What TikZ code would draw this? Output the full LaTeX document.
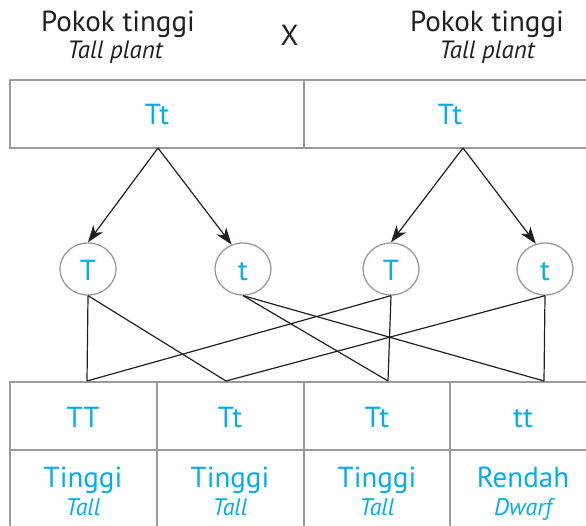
\documentclass[tikz,border=0pt]{standalone}
\usepackage{fontspec}
\setmainfont{PT Sans}
\usetikzlibrary{arrows.meta,shapes.geometric}
\definecolor{gcyan}{HTML}{00AEEF}
\definecolor{ink}{HTML}{231F20}
\definecolor{frame}{HTML}{9A9A9A}
\begin{document}
\begin{tikzpicture}[x=1pt,y=-1pt,
 box/.style={draw=frame,line width=1.3pt},
 lbl/.style={text=ink,font=\fontsize{29}{29}\selectfont,anchor=base,inner sep=0},
 sub/.style={text=ink,font=\itshape\fontsize{25}{25}\selectfont,anchor=base,inner sep=0},
 gen/.style={text=gcyan,font=\fontsize{29}{29}\selectfont,anchor=base,inner sep=0},
 gensub/.style={text=gcyan,font=\itshape\fontsize{24}{24}\selectfont,anchor=base,inner sep=0},
 gamete/.style={ellipse,draw=frame,line width=1.3pt,minimum width=56pt,minimum height=52pt,inner sep=0},
 link/.style={draw=ink,line width=1.2pt},
 arr/.style={link,-{Stealth[length=17pt,width=12pt,inset=5pt]}}]
\clip (0,0) rectangle (586,526);
% top labels
\node[lbl] (p1) at (118,32) {Pokok tinggi};
\node[sub] (s1) at (115,59) {Tall plant};
\node[lbl] (x) at (289.5,46) {X};
\node[lbl] (p2) at (487,32) {Pokok tinggi};
\node[sub] (s2) at (487,59) {Tall plant};
% parent box
\draw[box] (10,80) rectangle (600,148);
\draw[box] (304,80) -- (304,148);
\node[gen] (par1) at (157,125) {Tt};
\node[gen] (par2) at (450,125) {Tt};
\coordinate (o1) at (158,148);
\coordinate (o2) at (463,148);
% gametes
\node[gamete] (g1) at (88,269) {};
\node[gamete] (g2) at (243,269) {};
\node[gamete] (g3) at (391,269) {};
\node[gamete] (g4) at (545,269) {};
\node[gen] (g1t) at (88,281) {T};
\node[gen] (g2t) at (243,281) {t};
\node[gen] (g3t) at (391,281) {T};
\node[gen] (g4t) at (545,281) {t};
\draw[arr] (o1) -- (g1.north);
\draw[arr] (o1) -- (g2.115);
\draw[arr] (o2) -- (g3.north);
\draw[arr] (o2) -- (g4.110);
% offspring table
\draw[box] (10,382) rectangle (600,540);
\draw[box] (10,450) -- (600,450);
\draw[box] (157,382) -- (157,540);
\draw[box] (304,382) -- (304,540);
\draw[box] (450,382) -- (450,540);
\coordinate (b1) at (87,381);
\coordinate (b2) at (226,381);
\coordinate (b3) at (388,381);
\coordinate (b4) at (544,381);
\draw[link] (g1.south) -- (b1);
\draw[link] (g1.south) -- (b2);
\draw[link] (g2.south) -- (b3);
\draw[link] (g2.south) -- (b4);
\draw[link] (g3.south) -- (b3);
\draw[link] (g3.south) -- (b1);
\draw[link] (g4.south) -- (b4);
\draw[link] (g4.south) -- (b2);
\node[gen] (c1) at (83,427) {TT};
\node[gen] (c2) at (230,427) {Tt};
\node[gen] (c3) at (377,427) {Tt};
\node[gen] (c4) at (523,427) {tt};
\node[gen] (f1) at (83,487) {Tinggi};
\node[gen] (f2) at (230,487) {Tinggi};
\node[gen] (f3) at (377,487) {Tinggi};
\node[gen] (f4) at (523,487) {Rendah};
\node[gensub] (e1) at (83,515) {Tall};
\node[gensub] (e2) at (230,515) {Tall};
\node[gensub] (e3) at (377,515) {Tall};
\node[gensub] (e4) at (523,515) {Dwarf};
\end{tikzpicture}
\end{document}
